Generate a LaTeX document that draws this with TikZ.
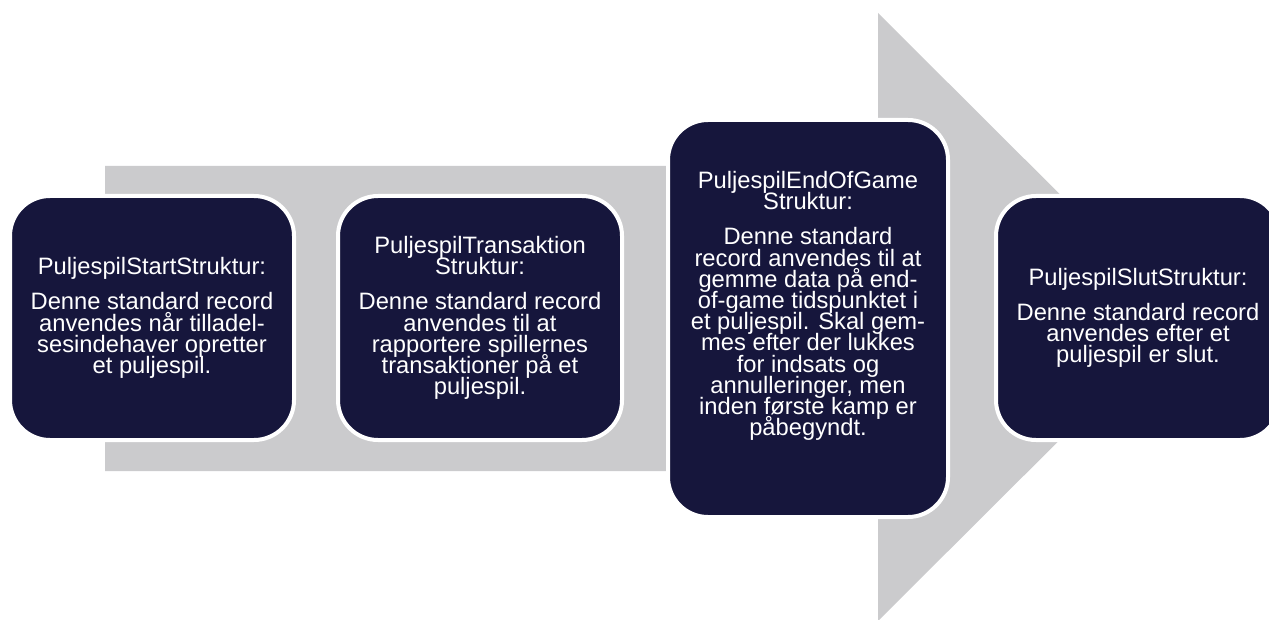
\documentclass[tikz,border=0pt]{standalone}
\usepackage{fontspec}
\setmainfont{Liberation Sans}
\definecolor{navy}{RGB}{22,22,60}
\definecolor{arrowgray}{RGB}{203,203,205}
\newcommand\myboxfont{\fontsize{17.8pt}{15.9pt}\selectfont\lineskiplimit=-30pt\relax\lineskip=0pt\relax}
\begin{document}
\begin{tikzpicture}[x=0.75pt,y=-0.75pt,
  box/.style={draw=white, line width=3pt, fill=navy, rounded corners=30pt,
    inner sep=0pt, text=white, align=center, font=\myboxfont},
  smallbox/.style={box, minimum width=213pt, minimum height=183pt},
  tallbox/.style={box, minimum width=210pt, minimum height=297.75pt}]
\useasboundingbox (0,0) rectangle (1269,620);
\fill[arrowgray] (105,166) -- (878,166) -- (878,13) -- (1183,317)
  -- (878,621) -- (878,471) -- (105,471) -- cycle;
\node[smallbox] (b1) at (152,318) {PuljespilStartStruktur:\\[10.5pt]
  Denne standard record\\ anvendes når tilladel-\\ sesindehaver opretter\\ et puljespil.};
\node[smallbox] (b2) at (480,318) {PuljespilTransaktion\\ Struktur:\\[10.5pt]
  Denne standard record\\ anvendes til at\\ rapportere spillernes\\ transaktioner på et\\ puljespil.};
\node[tallbox] (b3) at (808,318.5) {PuljespilEndOfGame\\ Struktur:\\[10.5pt]
  Denne standard\\ record anvendes til at\\ gemme data på end-\\ of-game tidspunktet i\\
  et puljespil. Skal gem-\\ mes efter der lukkes\\ for indsats og\\ annulleringer, men\\
  inden første kamp er\\ påbegyndt.\rule[-22.5pt]{0pt}{22.5pt}};
\node[smallbox] (b4) at (1138,318) {PuljespilSlutStruktur:\\[10.5pt]
  Denne standard record\\ anvendes efter et\\ puljespil er slut.};
\end{tikzpicture}
\end{document}
